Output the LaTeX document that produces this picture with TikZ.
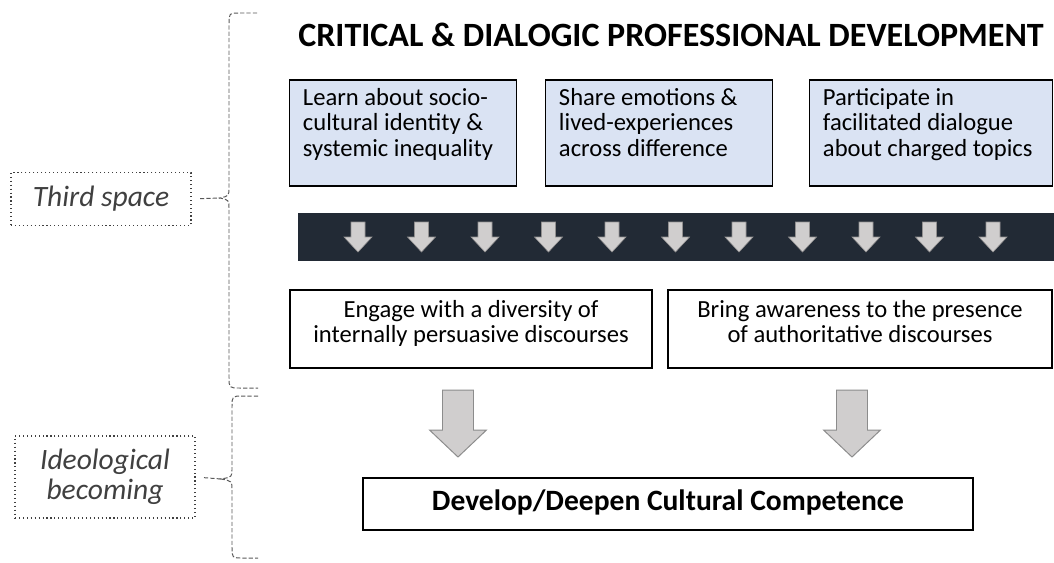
\documentclass[tikz,border=0pt]{standalone}
\usepackage{fontspec}
\setmainfont{Carlito}
\usetikzlibrary{positioning}

\definecolor{boxblue}{HTML}{DAE3F3}
\definecolor{barnavy}{HTML}{222A35}
\definecolor{arrowgray}{HTML}{D0CECE}
\definecolor{arrowedge}{HTML}{8C8C8C}
\definecolor{bracegray}{HTML}{595959}
\definecolor{labelgray}{HTML}{404040}

\begin{document}
\begin{tikzpicture}[x=0.025cm,y=-0.025cm,line width=0.9pt,
    blue box/.style={draw,fill=boxblue,align=flush left,inner xsep=0.33cm,minimum height=2.65cm,font=\fontsize{17.5}{17.8}\selectfont},
    white box/.style={draw,fill=white,align=flush center,minimum height=1.95cm,font=\fontsize{17.5}{17.8}\selectfont},
    side label/.style={draw=labelgray,dotted,line width=0.8pt,text=labelgray,align=center,font=\fontsize{21}{21.5}\selectfont\itshape},
    brace line/.style={draw=bracegray,dashed,line width=0.7pt,dash pattern=on 3pt off 1.5pt}]
    \useasboundingbox (0,0) rectangle (1054,562);

    \node[font=\fontsize{24.2}{26}\selectfont\bfseries] (title) at (671,35) {CRITICAL \& DIALOGIC PROFESSIONAL DEVELOPMENT};

    % three activity boxes
    \node[blue box,minimum width=5.65cm,text width=5.0cm] (learn) at (403,133) {\strut Learn about socio-\\cultural identity \&\\systemic inequality\strut\par\kern10pt};
    \node[blue box,minimum width=5.65cm,text width=5.0cm] (share) at (659,133) {\strut Share emotions \&\\lived-experiences\\across difference\strut\par\kern10pt};
    \node[blue box,minimum width=6.05cm,text width=5.4cm] (participate) at (931,133) {\strut Participate in\\facilitated dialogue\\about charged topics\strut\par\kern10pt};

    % dark band with small arrows
    \fill[barnavy] (298,213) rectangle (1054,261);
    \foreach \i [evaluate=\i as \cx using 358+63.5*\i] in {0,...,10}
        \draw[fill=arrowgray,draw=arrowgray!70!black,line width=0.4pt]
            (\cx-7,222) -- (\cx+7,222) -- (\cx+7,237) -- (\cx+14,237) -- (\cx,252) -- (\cx-14,237) -- (\cx-7,237) -- cycle;

    \node[white box,minimum width=9.05cm,text width=8.5cm] (engage) at (471,329) {\strut Engage with a diversity of\\internally persuasive discourses\strut\par\kern6pt};
    \node[white box,minimum width=9.6cm,text width=9.0cm] (bring) at (860,329) {\strut Bring awareness to the presence\\of authoritative discourses\strut\par\kern6pt};

    % big block arrows
    \foreach \cx in {458,852}
        \draw[fill=arrowgray,draw=arrowedge,line width=0.7pt]
            (\cx-15.5,390) -- (\cx+15.5,390) -- (\cx+15.5,430) -- (\cx+28.5,430) -- (\cx,457) -- (\cx-28.5,430) -- (\cx-15.5,430) -- cycle;

    \node[draw,minimum width=15.25cm,minimum height=1.3cm,text depth=0.5em,font=\fontsize{21}{24}\selectfont\bfseries] (develop) at (668,504) {Develop/Deepen Cultural Competence};

    % side labels and braces
    \node[side label,minimum width=4.5cm,minimum height=1.325cm] (third) at (101,199) {Third space};
    \node[side label,minimum width=4.5cm,minimum height=2.05cm] (ideo) at (105,477) {Ideological\\becoming};

    \coordinate (upper tip) at (220,198);
    \coordinate (lower tip) at (221,479);
    \draw[brace line] (257,13) -- (240,13) .. controls (229,13) .. (229,24) -- (229,187)
        .. controls (229,196) .. (upper tip) .. controls (229,200) .. (229,209) -- (229,377)
        .. controls (229,388) .. (240,388) -- (258,388);
    \draw[brace line] (258,396) -- (243,396) .. controls (232,396) .. (232,407) -- (232,469)
        .. controls (232,477) .. (lower tip) .. controls (232,481) .. (232,490) -- (232,547)
        .. controls (232,558) .. (243,558) -- (258,558);
    \draw[brace line,shorten <=6pt] (third.east) -- (upper tip);
    \draw[brace line,shorten <=6pt] (ideo.east) -- (lower tip);
\end{tikzpicture}
\end{document}
